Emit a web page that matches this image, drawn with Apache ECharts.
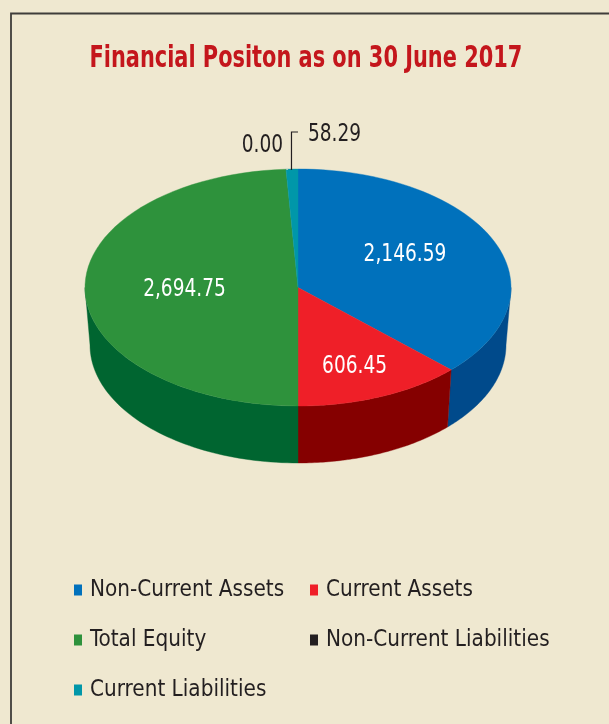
<!DOCTYPE html>
<html>
<head>
<meta charset="utf-8">
<style>html,body{margin:0;padding:0;background:#efe8d0}#main{width:609px;height:724px}</style>
<script src="https://cdn.jsdelivr.net/npm/echarts@6/dist/echarts.min.js"></script>
</head>
<body>
<div id="main"></div>
<script>
var categories = ['Non-Current Assets', 'Current Assets', 'Total Equity', 'Non-Current Liabilities', 'Current Liabilities'];
var values = [2146.59, 606.45, 2694.75, 0.00, 58.29];
var topColors = ['#0071bc', '#ef1f28', '#2e923c', '#231f20', '#0097a9'];
var wallColors = ['#004a8b', '#850000', '#006530', '#231f20', '#0097a9'];

var FONT = '"DejaVu Sans Condensed", sans-serif';
var TEXT = '#231f20';
var total = values.reduce(function (a, b) { return a + b; }, 0);

// the disc is tilted, near side looks bigger than far side
var tilt = 0.85;
var topDisc = {cx: 298, cy: 287.5, rx: 213, ry: 118.5};
var baseDisc = {cx: 298, cy: 345, rx: 208, ry: 118};
var squeeze = 0.86;

function warp(t) {
    return 2 * Math.atan2(tilt * Math.sin(t / 2), Math.cos(t / 2));
}
function onDisc(d, a) {
    return [d.cx + d.rx * Math.sin(a), d.cy - d.ry * Math.cos(a)];
}
function startAngle(i) {
    var sum = 0;
    for (var k = 0; k < i; k++) sum += values[k];
    return sum / total * Math.PI * 2;
}
function arcPoints(d, from, to) {
    var pts = [], n = 60;
    for (var k = 0; k <= n; k++) pts.push(onDisc(d, from + (to - from) * k / n));
    return pts;
}
function fmt(v) {
    return v.toLocaleString('en-US', {minimumFractionDigits: 2, maximumFractionDigits: 2});
}
function narrowText(text, x, y, fill, align) {
    return {
        type: 'text', x: x, y: y + 1.5, scaleX: squeeze,
        style: {text: text, fill: fill, font: '24px ' + FONT, textAlign: align, textVerticalAlign: 'middle'}
    };
}

// label spot as [radius share, angle shift] on the top disc
var insideSpots = {0: [0.58, -0.03], 1: [0.706, 0.02], 2: [0.533, -0.136]};

function renderSlice(params, api) {
    var i = params.seriesIndex;
    var v = api.value(0);
    var children = [];
    var t0 = startAngle(i);
    var t1 = t0 + v / total * Math.PI * 2;
    var a0 = warp(t0), a1 = warp(t1);
    if (a0 < 0) a0 += Math.PI * 2;
    if (a1 <= 0) a1 += Math.PI * 2;

    if (v > 0) {
        // side wall, only the front half shows
        var w0 = Math.max(a0, Math.PI / 2), w1 = Math.min(a1, Math.PI * 1.5);
        if (w1 > w0) {
            var wall = arcPoints(topDisc, w0, w1).concat(arcPoints(baseDisc, w0, w1).reverse());
            children.push({
                type: 'polygon', shape: {points: wall},
                style: {fill: wallColors[i], stroke: wallColors[i], lineWidth: 0.4}
            });
        }
        var top = [[topDisc.cx, topDisc.cy]].concat(arcPoints(topDisc, a0, a1));
        children.push({
            type: 'polygon', shape: {points: top},
            style: {fill: topColors[i], stroke: topColors[i], lineWidth: 0.4}
        });
    }
    if (insideSpots[i]) {
        var mid = warp((t0 + t1) / 2);
        if (mid < 0) mid += Math.PI * 2;
        var share = insideSpots[i][0];
        var spot = onDisc({cx: topDisc.cx, cy: topDisc.cy, rx: topDisc.rx * share, ry: topDisc.ry * share}, mid + insideSpots[i][1]);
        children.push(narrowText(fmt(v), spot[0], spot[1], '#fff', 'center'));
    }
    if (i === 3) {
        children.push(narrowText(fmt(v), 283, 144, TEXT, 'right'));
    }
    if (i === 4) {
        var edge = onDisc(topDisc, warp((t0 + t1) / 2));
        children.push({
            type: 'polyline',
            shape: {points: [[edge[0] - 0.5, edge[1] + 1], [edge[0] - 0.5, 132], [edge[0] + 6, 132]]},
            style: {fill: 'none', stroke: TEXT, lineWidth: 1.2}
        });
        children.push(narrowText(fmt(v), 308, 133, TEXT, 'left'));
    }
    return {type: 'group', children: children};
}

var legendSpots = [[74, 589], [310, 589], [74, 639], [310, 639], [74, 689]];

var option = {
    backgroundColor: '#efe8d0',
    animation: false,
    legend: categories.map(function (name, i) {
        return {
            data: [name],
            left: legendSpots[i][0],
            top: legendSpots[i][1] - 15,
            icon: 'rect', itemWidth: 8, itemHeight: 11,
            selectedMode: false,
            padding: 0,
            textStyle: {color: TEXT, fontFamily: FONT, fontSize: 22.3, padding: [2, 0, 0, 3], lineHeight: 30}
        };
    }),
    graphic: [{
        type: 'polyline', silent: true,
        shape: {points: [[11, 724], [11, 13.5], [609, 13.5]]},
        style: {fill: 'none', stroke: '#3f3d3a', lineWidth: 1.8}
    }, {
        type: 'text', silent: true, x: 89.5, y: 59, scaleX: 0.774,
        style: {
            text: 'Financial Positon as on 30 June 2017',
            fill: '#c4161c', font: 'bold 30px ' + FONT,
            textAlign: 'left', textVerticalAlign: 'middle'
        }
    }],
    series: categories.map(function (name, i) {
        return {
            type: 'custom', name: name,
            coordinateSystem: 'none',
            silent: true,
            itemStyle: {color: topColors[i]},
            renderItem: renderSlice,
            data: [[values[i]]]
        };
    })
};

var myChart = echarts.init(document.getElementById('main'), null, {renderer: 'canvas'});
myChart.setOption(option);
</script>
</body>
</html>
